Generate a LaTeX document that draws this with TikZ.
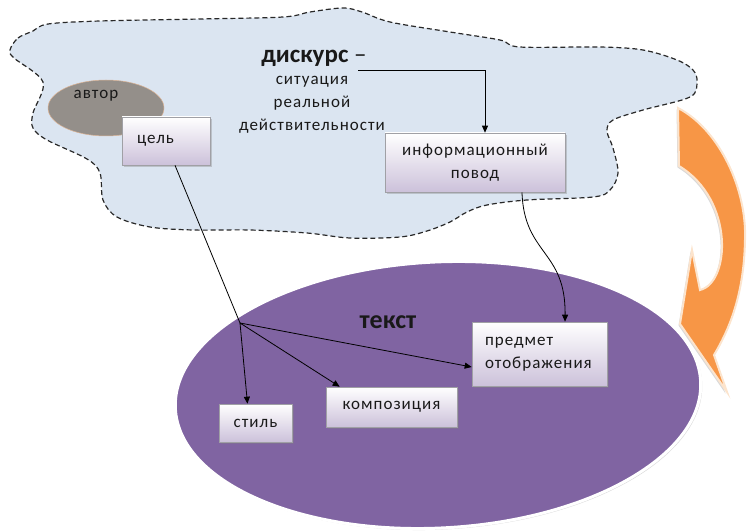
\documentclass[tikz,border=0pt]{standalone}
\usepackage{fontspec}
\setmainfont{Carlito}
\newfontfamily\boxfont[LetterSpace=6]{Carlito}
\usetikzlibrary{shadows,arrows.meta,shapes.geometric}
\definecolor{cloudfill}{RGB}{219,229,241}
\definecolor{cloudline}{RGB}{40,40,40}
\definecolor{avtorgray}{RGB}{148,143,138}
\definecolor{boxbottom}{RGB}{204,193,218}
\definecolor{boxborder}{RGB}{160,160,165}
\definecolor{tekstpurple}{RGB}{128,100,162}
\definecolor{arroworange}{RGB}{247,150,70}
\definecolor{orangerim}{RGB}{252,228,205}
\definecolor{txtcol}{RGB}{25,25,25}
\tikzset{
  bx/.style={draw=boxborder, line width=0.6pt, top color=white, bottom color=boxbottom,
    drop shadow={shadow xshift=2pt, shadow yshift=-2pt, opacity=0.35},
    inner sep=0pt, text=txtcol, font=\boxfont\fontsize{17}{23}\selectfont},
  txt/.style={inner sep=0pt, text=txtcol, font=\boxfont\fontsize{17}{23}\selectfont},
  arr/.style={-{Triangle[length=7pt,width=6pt]}, line width=0.8pt, draw=black},
  conn/.style={line width=0.8pt, draw=black}
}
\begin{document}
\begin{tikzpicture}[x=1pt,y=-1pt]
\useasboundingbox (0,0) rectangle (748,532);
% cloud (discourse)
\draw[draw=cloudline, fill=cloudfill, line width=1.2pt, dash pattern=on 5pt off 3pt]
  plot[smooth cycle, tension=0.55] coordinates {
  (10,50) (18,38) (33,31) (48,24) (100,21) (200,19) (283,17) (310,12) (343,8) (362,12)
  (390,22) (450,32) (500,40) (520,47) (600,47) (643,50) (677,60) (693,70) (697,82)
  (690,97) (643,110) (613,120) (607,131) (613,148) (618,173) (610,190) (593,197)
  (527,200) (487,205) (467,212) (450,222) (427,231) (400,237) (350,238) (307,233)
  (250,230) (193,230) (150,227) (117,217) (103,200) (100,173) (87,159) (47,140)
  (33,128) (33,113) (43,82) (14,58)};
% author ellipse
\node[ellipse, fill=avtorgray, draw={rgb,255:red,220;green,180;blue,150}, line width=0.5pt,
  minimum width=116pt, minimum height=56pt, inner sep=0pt] (avtor) at (106,108) {};
\node[txt] (avtortxt) at (96,96) {автор};
% text ellipse
\node[ellipse, fill=tekstpurple, draw=white, line width=3pt, rotate=3,
  minimum width=526pt, minimum height=266pt, inner sep=0pt,
  drop shadow={shadow xshift=1.5pt, shadow yshift=-1.5pt, opacity=0.3}] (tekst) at (438,395) {};
\node[inner sep=0pt, text=txtcol, font=\bfseries\fontsize{26}{28}\selectfont] (tekstlbl) at (388,322) {текст};
% orange curved arrow
\path[fill=arroworange, draw=orangerim, line width=2pt,
  drop shadow={shadow xshift=-1.5pt, shadow yshift=-1.5pt, opacity=0.3}]
  (678,108) .. controls (720,130) and (747,190) .. (745,240)
  .. controls (744,290) and (732,325) .. (714,355) -- (727,392) -- (680,324)
  -- (692,250) -- (700,290) .. controls (730,283) and (735,200) .. (679,166) -- cycle;
% discourse title
\node[inner sep=0pt, text=txtcol, font=\fontsize{25}{28}\selectfont] (disk) at (314,58) {\textbf{дискурс} –};
\node[txt, align=center] (sit) at (312,105) {ситуация\\реальной\\действительности};
% boxes
\node[bx, minimum width=88pt, minimum height=48pt, text width=58pt, inner xsep=15pt, align=left] (cel) at (166,141) {цель};
\node[bx, minimum width=180pt, minimum height=59pt, align=center] (info) at (475,162.5) {информационный\\повод};
\node[bx, minimum width=73pt, minimum height=38pt] (stil) at (255.5,423) {стиль};
\node[bx, minimum width=131pt, minimum height=40pt] (komp) at (391.5,407) {композиция};
\node[bx, minimum width=135pt, minimum height=64pt, text width=109pt, inner xsep=13pt, align=left] (pred) at (539.5,354) {предмет\\отображения};
% connectors
\coordinate (dstart) at (358,70);
\coordinate (junc) at (240,323);
\draw[arr] (dstart) -| ([xshift=10pt]info.north);
\draw[conn] ([xshift=9pt]cel.south) -- (junc);
\draw[arr] (junc) -- ([xshift=-8pt]stil.north);
\draw[arr] (junc) -- ([xshift=14pt]komp.north west);
\draw[arr] (junc) -- ([yshift=-13pt]pred.west);
\draw[arr] ([xshift=47pt]info.south) .. controls (524,255) and (566,250) .. ([xshift=25.5pt]pred.north);
\end{tikzpicture}
\end{document}
